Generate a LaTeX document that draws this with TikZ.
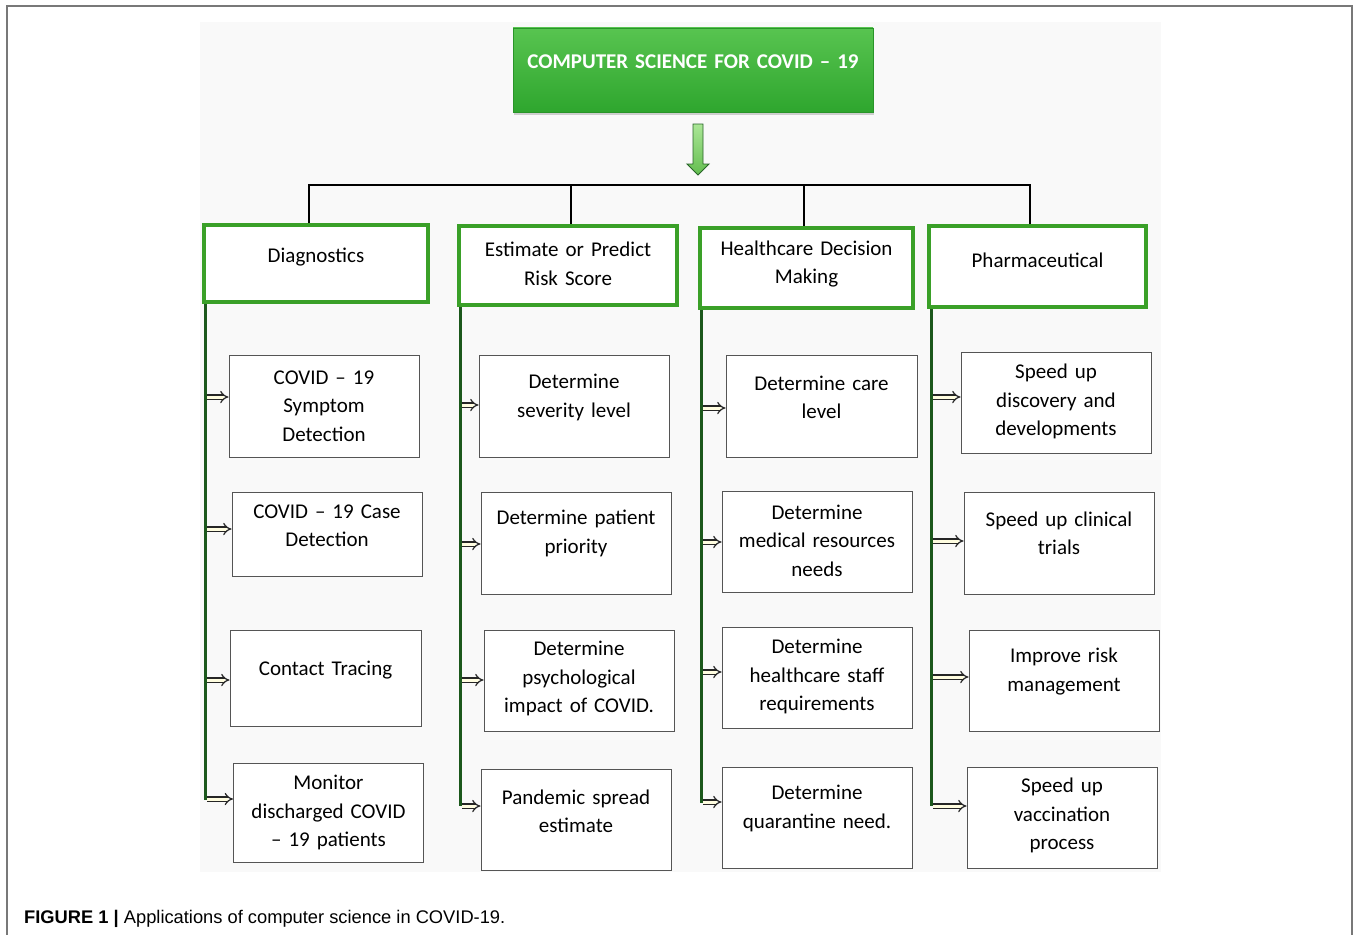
\documentclass[tikz,border=0pt]{standalone}
\usepackage{fontspec}
\setmainfont{Carlito}
\newfontfamily\capfont{Liberation Sans}
\usetikzlibrary{arrows.meta,shadows}
\definecolor{catgreen}{RGB}{58,160,40}
\definecolor{linegreen}{RGB}{28,88,28}
\definecolor{titletop}{RGB}{88,196,80}
\definecolor{titlebot}{RGB}{46,166,46}
\definecolor{arrtop}{RGB}{170,230,150}
\definecolor{arrbot}{RGB}{100,190,80}
\definecolor{arrdraw}{RGB}{40,100,40}
\definecolor{framegray}{RGB}{120,120,120}
\definecolor{bggray}{RGB}{249,249,249}
\definecolor{boxgray}{RGB}{85,85,85}
\begin{document}
\begin{tikzpicture}[x=1pt,y=-1pt,
  txt/.style={font=\fontsize{21}{28.5}\selectfont, inner sep=0pt, align=center},
  liftby/.style={execute at end node={\endgraf\kern#1pt}},
  cat/.style={txt, draw=catgreen, line width=4pt, fill=white},
  sub/.style={txt, draw=boxgray, line width=1pt, fill=white},
  titlebox/.style={txt, font=\fontsize{21}{24}\selectfont\bfseries, text=white,
     top color=titletop, bottom color=titlebot, draw=titlebot!90!black, line width=0.6pt,
     drop shadow={opacity=0.35, shadow xshift=1pt, shadow yshift=-3pt}},
  vline/.style={draw=linegreen, line width=3pt},
  bus/.style={draw=black, line width=2pt},
  darr/.style={draw=black!85, double=white!88!yellow, double distance=3pt, line width=1.2pt, -{Implies}}
]
\useasboundingbox (0,0) rectangle (1354,934);
% outer frame and background
\draw[framegray, line width=1.5pt] (7,945) -- (7,6) -- (1352,6) -- (1352,945);
\fill[bggray] (200,22) rectangle (1161,872);

% title
\node[titlebox, minimum width=360pt, minimum height=84pt, text width=350pt, liftby=17] (title) at (693,70) {COMPUTER SCIENCE FOR COVID – 19};
\shade[top color=arrtop, bottom color=arrbot, draw=arrdraw, line width=0.9pt]
  (693,124) -- (703,124) -- (703,164) -- (709,164) -- (698,175) -- (687,164) -- (693,164) -- cycle;

% categories
\node[cat, minimum width=224pt, minimum height=77pt, text width=214pt, liftby=13] (diag) at (316,263.5) {Diagnostics};
\node[cat, minimum width=218pt, minimum height=79pt, text width=208pt, liftby=3] (est) at (568,265.5) {Estimate or Predict\\Risk Score};
\node[cat, minimum width=213pt, minimum height=80pt, text width=203pt, liftby=8] (hdm) at (806.5,268) {Healthcare Decision\\Making};
\node[cat, minimum width=217pt, minimum height=81pt, text width=207pt, liftby=13] (pha) at (1037.5,266.5) {Pharmaceutical};

% bus
\coordinate (b1) at (309,185);
\coordinate (b2) at (571,185);
\coordinate (b3) at (804,185);
\coordinate (b4) at (1030,185);
\draw[bus] (b1 |- diag.north) -- (b1) -- (b4) -- (b4 |- pha.north);
\draw[bus] (b2) -- (b2 |- est.north);
\draw[bus] (b3) -- (b3 |- hdm.north);

% sub boxes column 1
\node[sub, minimum width=190pt, minimum height=102pt, text width=180pt] (s11) at (324,406) {COVID – 19\\Symptom\\Detection};
\node[sub, minimum width=190pt, minimum height=84pt, text width=180pt, liftby=16] (s12) at (327,534) {COVID – 19 Case\\Detection};
\node[sub, minimum width=191pt, minimum height=96pt, text width=181pt, liftby=16] (s13) at (325.5,678) {Contact Tracing};
\node[sub, minimum width=190pt, minimum height=99pt, text width=180pt] (s14) at (328.5,812.5) {Monitor\\discharged COVID\\– 19 patients};
% column 2
\node[sub, minimum width=190pt, minimum height=102pt, text width=180pt, liftby=17] (s21) at (574,406) {Determine\\severity level};
\node[sub, minimum width=190pt, minimum height=102pt, text width=180pt, liftby=19] (s22) at (576,543) {Determine patient\\priority};
\node[sub, minimum width=190pt, minimum height=101pt, text width=180pt, liftby=4] (s23) at (579,680.5) {Determine\\psychological\\impact of COVID.};
\node[sub, minimum width=190pt, minimum height=101pt, text width=180pt, liftby=16] (s24) at (576,819.5) {Pandemic spread\\estimate};
% column 3
\node[sub, minimum width=191pt, minimum height=102pt, text width=181pt, liftby=17] (s31) at (821.5,406) {Determine care\\level};
\node[sub, minimum width=190pt, minimum height=101pt, text width=180pt, liftby=2] (s32) at (817,541.5) {Determine\\medical resources\\needs};
\node[sub, minimum width=190pt, minimum height=101pt, text width=180pt, liftby=2] (s33) at (817,677.5) {Determine\\healthcare staff\\requirements};
\node[sub, minimum width=190pt, minimum height=101pt, text width=180pt, liftby=18] (s34) at (817,817.5) {Determine\\quarantine need.};
% column 4
\node[sub, minimum width=190pt, minimum height=101pt, text width=180pt, liftby=2] (s41) at (1056,402.5) {Speed up\\discovery and\\developments};
\node[sub, minimum width=190pt, minimum height=102pt, text width=180pt, liftby=19] (s42) at (1059,543) {Speed up clinical\\trials};
\node[sub, minimum width=190pt, minimum height=101pt, text width=180pt, liftby=18] (s43) at (1064,680.5) {Improve risk\\management};
\node[sub, minimum width=190pt, minimum height=101pt, text width=180pt, liftby=4] (s44) at (1062,817.5) {Speed up\\vaccination\\process};

% vertical green lines
\coordinate (e1) at (205,800);
\coordinate (e2) at (460,806);
\coordinate (e3) at (701,803);
\coordinate (e4) at (931,806);
\draw[vline] (diag.south west -| e1) -- (e1);
\draw[vline] (est.south west -| e2) -- (e2);
\draw[vline] (hdm.south west -| e3) -- (e3);
\draw[vline] (pha.south west -| e4) -- (e4);

% small arrows
\foreach \n/\x/\y in {11/207/397, 12/207/529, 13/207/680, 14/207/799,
                      21/462/405, 22/462/544, 23/462/680, 24/462/806,
                      31/703/408, 32/703/542, 33/703/672, 34/703/802,
                      41/933/397, 42/933/541, 43/933/677, 44/933/806}{
  \coordinate (a\n) at (\x,\y);
  \draw[darr] (a\n) -- (a\n -| s\n.west);
}

% caption
\node[anchor=base west, inner sep=0pt, font=\capfont\fontsize{18.3}{21}\selectfont] (cap) at (24,923) {\textbf{FIGURE 1 |} Applications of computer science in COVID-19.};
\end{tikzpicture}
\end{document}
